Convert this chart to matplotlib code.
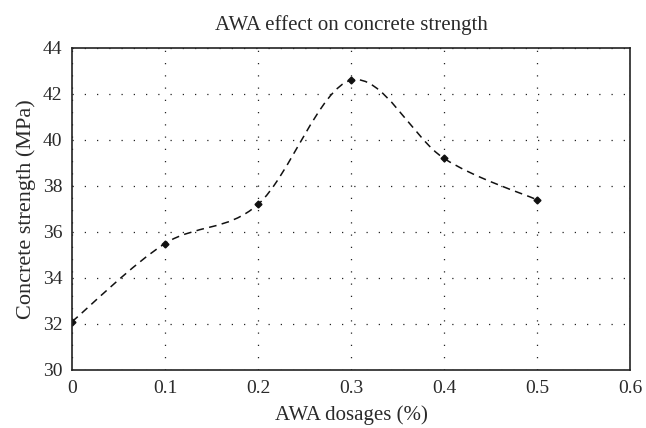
import numpy as np
import matplotlib
matplotlib.use("Agg")
import matplotlib.pyplot as plt
from matplotlib.path import Path
from matplotlib.patches import PathPatch

# Data
dosage = [0, 0.1, 0.2, 0.3, 0.4, 0.5]
strength = [32.1, 35.5, 37.2, 42.6, 39.2, 37.4]

plt.rcParams['font.family'] = ['Liberation Serif', 'DejaVu Serif']
txt = '#2a2a2a'

fig = plt.figure(figsize=(6.46, 4.28), dpi=100)
ax = fig.add_axes([72 / 646, 1 - 370 / 428, 558 / 646, 322 / 428])

# smooth dashed curve through the points (Catmull-Rom as Bezier segments)
x = np.array(dosage, dtype=float)
y = np.array(strength, dtype=float)
verts = [(x[0], y[0])]
codes = [Path.MOVETO]
n = len(x)
for i in range(n - 1):
    i0 = max(i - 1, 0)
    i3 = min(i + 2, n - 1)
    c1 = (x[i] + (x[i + 1] - x[i0]) / 6, y[i] + (y[i + 1] - y[i0]) / 6)
    c2 = (x[i + 1] - (x[i3] - x[i]) / 6, y[i + 1] - (y[i3] - y[i]) / 6)
    verts += [c1, c2, (x[i + 1], y[i + 1])]
    codes += [Path.CURVE4] * 3
patch = PathPatch(Path(verts, codes), facecolor='none', edgecolor='#111111',
                  lw=1.1, linestyle=(0, (5, 3.5)))
ax.add_patch(patch)
ax.plot(dosage, strength, linestyle='none', marker='D', ms=3.5, color='#111111')

ax.set_xlim(0, 0.6)
ax.set_ylim(30, 44)
ax.set_xticks([0, 0.1, 0.2, 0.3, 0.4, 0.5, 0.6])
ax.set_xticklabels(['0', '0.1', '0.2', '0.3', '0.4', '0.5', '0.6'])
ax.set_yticks([30, 32, 34, 36, 38, 40, 42, 44])
ax.tick_params(length=0, labelsize=14, pad=7, colors=txt)
ax.grid(True, linestyle=(0, (1, 8.8)), color='#222222', lw=0.9)
for s in ax.spines.values():
    s.set_linewidth(1.2)
    s.set_color('#222222')

ax.set_title('AWA effect on concrete strength', fontsize=15, pad=13, color=txt)
ax.set_xlabel('AWA dosages (%)', fontsize=15, labelpad=6, color=txt)
ax.set_ylabel('Concrete strength (MPa)', fontsize=16, labelpad=5, color=txt)

fig.savefig('out.png', dpi=100)
